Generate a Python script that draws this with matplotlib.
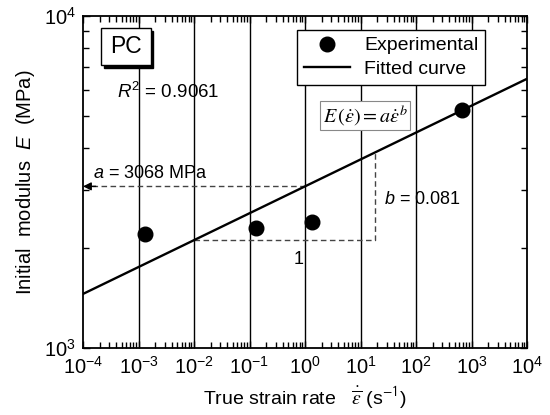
import numpy as np
import matplotlib
matplotlib.use("Agg")
import matplotlib.pyplot as plt
from matplotlib.ticker import LogLocator, NullFormatter
from matplotlib.patches import Rectangle

plt.rcParams['font.family'] = ['Liberation Sans', 'DejaVu Sans']
plt.rcParams['mathtext.fontset'] = 'custom'
plt.rcParams['mathtext.rm'] = 'Liberation Sans'
plt.rcParams['mathtext.it'] = 'Liberation Sans:italic'
plt.rcParams['mathtext.bf'] = 'Liberation Sans:bold'

# ---- data ----
strain_rate = [1.3e-3, 0.13, 1.34, 670.0]
modulus = [2205, 2300, 2395, 5210]
a_fit = 3068.0
b_fit = 0.081
r2 = 0.9061
fit_x = [1e-4, 1e4]
slope_x = [1e-2, 18.0]
x_ticks = [1e-4, 1e-3, 1e-2, 1e-1, 1e0, 1e1, 1e2, 1e3, 1e4]

fig = plt.figure(figsize=(5.5, 4.15), dpi=100)
ax = fig.add_axes([83/550, 1-348/415, 444/550, 332/415])
ax.set_xscale('log')
ax.set_yscale('log')
ax.set_xlim(1e-4, 1e4)
ax.set_ylim(1e3, 1e4)

# vertical grid
for xt in x_ticks[1:-1]:
    ax.axvline(xt, color='black', lw=1.0, zorder=1)

# fitted curve
xx = np.logspace(np.log10(fit_x[0]), np.log10(fit_x[1]), 200)
ax.plot(xx, a_fit * xx**b_fit, color='black', lw=1.7, zorder=3, label='Fitted curve')
ax.plot(strain_rate, modulus, 'o', color='black', ms=10.5, zorder=4, label='Experimental')

# dashed helper lines
dash = dict(color='#444444', lw=1.0, ls=(0, (4, 2.5)), zorder=2)
ax.plot([1.45e-4, 1.0], [a_fit, a_fit], **dash)
ax.annotate('', xy=(1e-4, a_fit), xytext=(1.7e-4, a_fit),
            arrowprops=dict(arrowstyle='-|>', color='black', lw=1.0,
                            mutation_scale=12, shrinkA=0, shrinkB=0), zorder=3)
y0 = a_fit * slope_x[0]**b_fit
y1 = a_fit * slope_x[1]**b_fit
ax.plot([slope_x[0], slope_x[1], slope_x[1]], [y0, y0, y1], **dash)

# texts
ax.text(1.5e-4, 3170, '$a$ = 3068 MPa', fontsize=13, ha='left', va='bottom')
ax.text(26, 2800, '$b$ = 0.081', fontsize=13, ha='left', va='center')
ax.text(0.62, y0 * 0.93, '1', fontsize=13, ha='left', va='top')
ax.text(0.077, 0.770, '$R^{2}$ = 0.9061', fontsize=13.5, transform=ax.transAxes,
        ha='left', va='center')

# PC box with shadow
bx0, by0, bw, bh = 0.0405, 0.852, 0.112, 0.112
ax.add_patch(Rectangle((bx0 + 0.006, by0 - 0.009), bw, bh, transform=ax.transAxes,
                       facecolor='black', edgecolor='black', zorder=5))
ax.add_patch(Rectangle((bx0, by0), bw, bh, transform=ax.transAxes,
                       facecolor='white', edgecolor='black', lw=1.0, zorder=6))
ax.text(bx0 + bw/2, by0 + bh/2, 'PC', fontsize=16.5, transform=ax.transAxes,
        ha='center', va='center', zorder=7)

# equation box
ax.text(0.635, 0.700, r'$E\,(\dot{\varepsilon}) = a\dot{\varepsilon}^{b}$', fontsize=14.5,
        transform=ax.transAxes, ha='center', va='center', math_fontfamily='stix',
        bbox=dict(boxstyle='square,pad=0.12', facecolor='white', edgecolor='#888888', lw=0.8),
        zorder=6)

# legend
h, l = ax.get_legend_handles_labels()
leg = ax.legend(h[::-1], l[::-1], loc='upper left', bbox_to_anchor=(0.482, 0.958),
                borderaxespad=0, fontsize=14, frameon=True, fancybox=False,
                handlelength=2.4, handletextpad=0.7, borderpad=0.35, labelspacing=0.3)
leg.get_frame().set_edgecolor('black')
leg.get_frame().set_linewidth(1.0)
leg.get_frame().set_alpha(1)
leg.set_zorder(8)

# ticks
ax.set_xticks(x_ticks)
ax.xaxis.set_minor_locator(LogLocator(base=10, subs=np.arange(2, 10), numticks=20))
ax.xaxis.set_minor_formatter(NullFormatter())
ax.set_yticks([1e3, 1e4])
ax.yaxis.set_minor_locator(LogLocator(base=10, subs=np.arange(2, 10), numticks=20))
ax.yaxis.set_minor_formatter(NullFormatter())
ax.tick_params(which='both', direction='in', top=True, right=True, labelsize=14.5, color='black')
ax.tick_params(which='major', length=5, width=1)
ax.tick_params(which='minor', length=4.5, width=1)
ax.tick_params(axis='x', which='major', pad=6)
ax.tick_params(axis='y', which='major', pad=5)
for s in ax.spines.values():
    s.set_linewidth(1.3)

ax.set_xlabel(r'True strain rate   $\dot{\overline{\varepsilon}}$ (s$^{\mathsf{-1}}$)',
              fontsize=14, math_fontfamily='stix', labelpad=5)
ax.set_ylabel('Initial  modulus  $E$  (MPa)', fontsize=14.5, labelpad=5)

fig.savefig('out.png', dpi=100)
